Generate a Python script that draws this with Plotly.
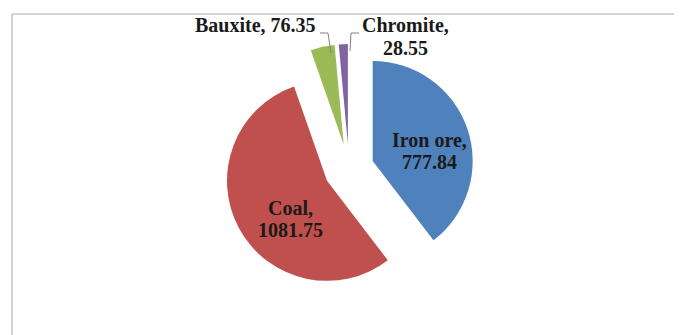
import plotly.graph_objects as go

W, H = 682, 335

MINERALS = ["Iron ore", "Coal", "Bauxite", "Chromite"]
PRODUCTION = [777.84, 1081.75, 76.35, 28.55]
COLORS = ["#4F81BD", "#C0504D", "#9BBB59", "#8064A2"]
PULL = [0.25, 0.25, 0.25, 0.25]

FONT = dict(family="Liberation Serif, Times New Roman, serif", size=20, color="#1a1a1a")


def px(x, y):
    """Pixel position -> paper coordinates."""
    return x / W, 1 - y / H


# pie box centred so the drawn pie lands at (349,170), radius ~101 px
cx, cy, box = 341, 161, 250
x0, y1 = px(cx - box / 2, cy - box / 2)
x1, y0 = px(cx + box / 2, cy + box / 2)

fig = go.Figure(
    go.Pie(
        labels=MINERALS,
        values=PRODUCTION,
        sort=False,
        direction="clockwise",
        rotation=0,
        pull=PULL,
        marker=dict(colors=COLORS, line=dict(width=0)),
        textinfo="none",
        hoverinfo="label+value",
        domain=dict(x=[x0, x1], y=[y0, y1]),
        showlegend=False,
    )
)

# one annotation per text line so the line spacing stays tight like the original
label_lines = [
    (421, 132, "center", f"{MINERALS[0]},"),
    (421, 154, "center", f"{PRODUCTION[0]:.2f}"),
    (282, 200, "center", f"{MINERALS[1]},"),
    (282, 222, "center", f"{PRODUCTION[1]:.2f}"),
    (310, 17, "right", f"{MINERALS[2]}, {PRODUCTION[2]:.2f}"),
    (397, 17, "center", f"{MINERALS[3]},"),
    (397, 40, "center", f"{PRODUCTION[3]:.2f}"),
]
annotations = []
for x, y, anchor, text in label_lines:
    ax, ay = px(x, y)
    annotations.append(dict(
        x=ax, y=ay, xref="paper", yref="paper", text=f"<b>{text}</b>", showarrow=False,
        xanchor=anchor, yanchor="middle", font=FONT,
    ))

LEADER = "#7f7f7f"
shapes = [
    # leader lines
    dict(type="path", xref="paper", yref="paper",
         path="M {} {} L {} {} L {} {}".format(*px(312, 25), *px(320, 25), *px(323, 45)),
         line=dict(color=LEADER, width=1)),
    dict(type="path", xref="paper", yref="paper",
         path="M {} {} L {} {} L {} {}".format(*px(351, 25), *px(343, 25), *px(342, 43)),
         line=dict(color=LEADER, width=1)),
    # chart frame
    dict(type="line", xref="paper", yref="paper",
         x0=px(4, 6)[0], y0=px(4, 6)[1], x1=1, y1=px(4, 6)[1],
         line=dict(color="#d4d4d4", width=2)),
    dict(type="line", xref="paper", yref="paper",
         x0=px(4, 6)[0], y0=px(4, 6)[1], x1=px(4, 6)[0], y1=0,
         line=dict(color="#a8a8a8", width=1)),
]

fig.update_layout(
    width=W,
    height=H,
    margin=dict(l=0, r=0, t=0, b=0),
    paper_bgcolor="white",
    plot_bgcolor="white",
    annotations=annotations,
    shapes=shapes,
)

fig.write_html("out.html")
